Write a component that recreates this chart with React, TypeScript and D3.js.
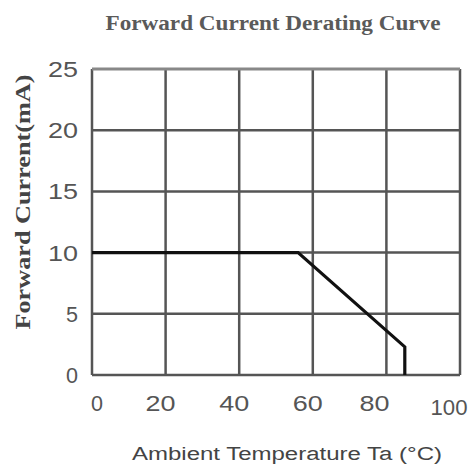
import React from "react";
import * as d3 from "d3";

const xTicks = [0, 20, 40, 60, 80, 100];
const yTicks = [0, 5, 10, 15, 20, 25];
const curveTemp = [0, 56, 85, 85];
const curveCurrent = [10, 10, 2.3, 0];

const W = 468;
const H = 468;

export default function App() {
  const x = d3.scaleLinear().domain([0, 100]).range([92, 460]);
  const y = d3.scaleLinear().domain([0, 25]).range([375, 69]);
  const pts: [number, number][] = curveTemp.map((t, i) => [t, curveCurrent[i]]);
  const line = d3
    .line<[number, number]>()
    .x((d) => x(d[0]))
    .y((d) => y(d[1]));
  const labelW = (t: number) => {
    const n = String(t).length;
    return n === 1 ? 12 : n === 2 ? 30 : 37;
  };
  const xLabelCenter = (t: number) =>
    t === 0 ? x(t) + 5 : t === 100 ? x(t) - 11 : t === 80 ? x(t) - 12 : x(t) - 5;
  return (
    <svg
      width={W}
      height={H}
      style={{ position: "absolute", left: 0, top: 0, background: "#fff" }}
    >
      <rect x={0} y={0} width={W} height={H} fill="#fff" />
      <text
        x={273}
        y={30}
        textAnchor="middle"
        fontFamily="Liberation Serif, DejaVu Serif, serif"
        fontSize={20}
        fontWeight="bold"
        fill="#5a5a5a"
        textLength={335}
        lengthAdjust="spacingAndGlyphs"
      >
        Forward Current Derating Curve
      </text>
      {xTicks.map((t) => (
        <line
          key={"vx" + t}
          x1={x(t)}
          x2={x(t)}
          y1={y(25)}
          y2={y(0)}
          stroke="#555"
          strokeWidth={2.5}
        />
      ))}
      {yTicks.map((t) => (
        <line
          key={"hy" + t}
          x1={x(0)}
          x2={x(100)}
          y1={y(t)}
          y2={y(t)}
          stroke={t === 25 ? "#888" : "#555"}
          strokeWidth={t === 25 ? 3 : 2.5}
        />
      ))}
      <path
        d={line(pts) || ""}
        fill="none"
        stroke="#111"
        strokeWidth={3.2}
        strokeLinejoin="miter"
      />
      {yTicks.map((t) => (
        <text
          key={"ly" + t}
          x={78 - labelW(t)}
          y={y(t) + 8}
          fontFamily="Liberation Sans, Arial, sans-serif"
          fontSize={22}
          fill="#555"
          textLength={labelW(t)}
          lengthAdjust="spacingAndGlyphs"
        >
          {t}
        </text>
      ))}
      {xTicks.map((t) => (
        <text
          key={"lx" + t}
          x={xLabelCenter(t) - labelW(t) / 2}
          y={t === 100 ? 415 : 411}
          fontFamily="Liberation Sans, Arial, sans-serif"
          fontSize={22}
          fill="#555"
          textLength={labelW(t)}
          lengthAdjust="spacingAndGlyphs"
        >
          {t}
        </text>
      ))}
      <text
        x={287}
        y={460}
        textAnchor="middle"
        fontFamily="Liberation Sans, Arial, sans-serif"
        fontSize={18}
        fill="#444"
        textLength={310}
        lengthAdjust="spacingAndGlyphs"
      >
        Ambient Temperature Ta (°C)
      </text>
      <text
        transform="translate(30,202) rotate(-90)"
        textAnchor="middle"
        fontFamily="Liberation Serif, DejaVu Serif, serif"
        fontSize={21}
        fontWeight="bold"
        fill="#444"
        textLength={255}
        lengthAdjust="spacingAndGlyphs"
      >
        Forward Current(mA)
      </text>
    </svg>
  );
}
